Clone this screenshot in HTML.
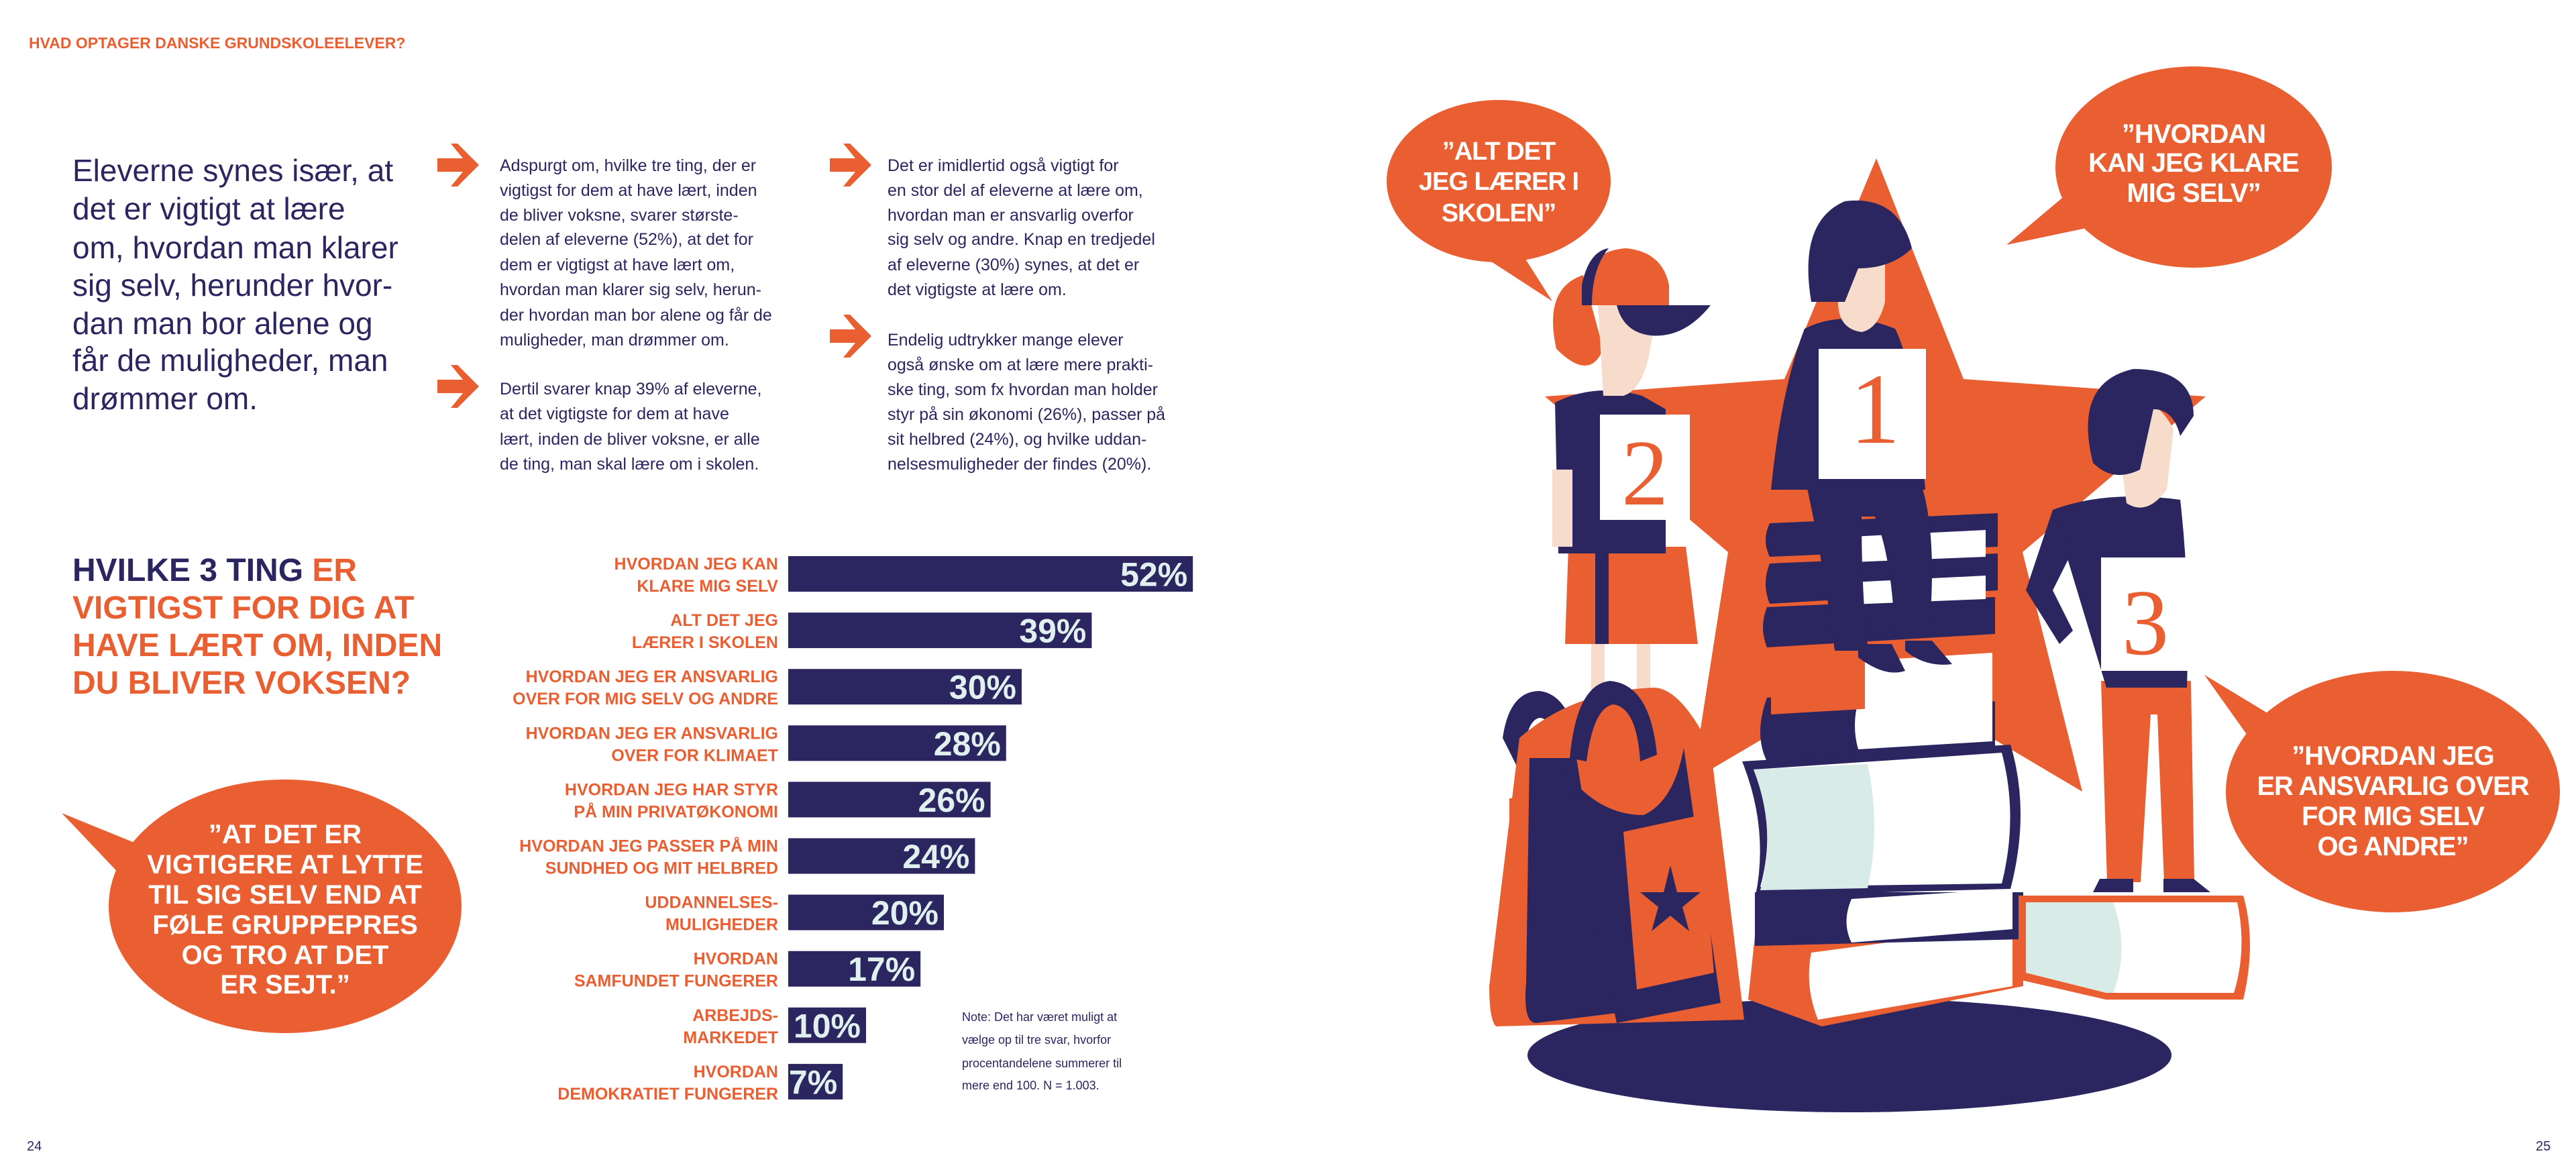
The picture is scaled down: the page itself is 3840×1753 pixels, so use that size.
<!DOCTYPE html>
<html><head><meta charset="utf-8"><style>
html,body{margin:0;padding:0;background:#fff;}
svg{display:block;}
.nar{font-family:"Liberation Sans Narrow","Liberation Sans",sans-serif;font-weight:bold;}
.reg{font-family:"Liberation Sans",sans-serif;}
.bub{font-family:"Liberation Sans",sans-serif;font-weight:bold;fill:#fff;letter-spacing:-1px;}
</style></head><body>
<svg id="page" width="3840" height="1753" viewBox="0 0 3840 1753" xmlns="http://www.w3.org/2000/svg">
<text x="43" y="72" class="nar" font-size="23" fill="#e95f32">HVAD OPTAGER DANSKE GRUNDSKOLEELEVER?</text>

<g class="reg" font-size="46" fill="#2b2560">
<text x="108" y="270">Eleverne synes især, at</text>
<text x="108" y="327">det er vigtigt at lære</text>
<text x="108" y="385">om, hvordan man klarer</text>
<text x="108" y="441">sig selv, herunder hvor-</text>
<text x="108" y="498">dan man bor alene og</text>
<text x="108" y="553">får de muligheder, man</text>
<text x="108" y="610">drømmer om.</text>
</g>

<g fill="#e95f32">
<path d="M652,236 h38 l-18,-22 h10 l32,32 l-32,32 h-10 l18,-22 h-38z"/>
<path d="M652,566 h38 l-18,-22 h10 l32,32 l-32,32 h-10 l18,-22 h-38z"/>
<path d="M1237,236 h38 l-18,-22 h10 l32,32 l-32,32 h-10 l18,-22 h-38z"/>
<path d="M1237,491 h38 l-18,-22 h10 l32,32 l-32,32 h-10 l18,-22 h-38z"/>
</g>
<g class="reg" font-size="25" fill="#2b2560">
<text x="745" y="255">Adspurgt om, hvilke tre ting, der er</text>
<text x="745" y="292">vigtigst for dem at have lært, inden</text>
<text x="745" y="329">de bliver voksne, svarer største-</text>
<text x="745" y="365">delen af eleverne (52%), at det for</text>
<text x="745" y="403">dem er vigtigst at have lært om,</text>
<text x="745" y="440">hvordan man klarer sig selv, herun-</text>
<text x="745" y="478">der hvordan man bor alene og får de</text>
<text x="745" y="515">muligheder, man drømmer om.</text>
<text x="745" y="588">Dertil svarer knap 39% af eleverne,</text>
<text x="745" y="625">at det vigtigste for dem at have</text>
<text x="745" y="663">lært, inden de bliver voksne, er alle</text>
<text x="745" y="700">de ting, man skal lære om i skolen.</text>
</g>
<g class="reg" font-size="25" fill="#2b2560">
<text x="1323" y="255">Det er imidlertid også vigtigt for</text>
<text x="1323" y="292">en stor del af eleverne at lære om,</text>
<text x="1323" y="329">hvordan man er ansvarlig overfor</text>
<text x="1323" y="365">sig selv og andre. Knap en tredjedel</text>
<text x="1323" y="403">af eleverne (30%) synes, at det er</text>
<text x="1323" y="440">det vigtigste at lære om.</text>
<text x="1323" y="515">Endelig udtrykker mange elever</text>
<text x="1323" y="552">også ønske om at lære mere prakti-</text>
<text x="1323" y="589">ske ting, som fx hvordan man holder</text>
<text x="1323" y="626">styr på sin økonomi (26%), passer på</text>
<text x="1323" y="663">sit helbred (24%), og hvilke uddan-</text>
<text x="1323" y="700">nelsesmuligheder der findes (20%).</text>
</g>

<g class="nar" font-size="48">
<text x="108" y="866"><tspan fill="#2b2560">HVILKE 3 TING </tspan><tspan fill="#e95f32">ER</tspan></text>
<text x="108" y="922" fill="#e95f32">VIGTIGST FOR DIG AT</text>
<text x="108" y="978" fill="#e95f32">HAVE LÆRT OM, INDEN</text>
<text x="108" y="1034" fill="#e95f32">DU BLIVER VOKSEN?</text>
</g>

<g>
<path d="M92,1212 L215,1262 L185,1310z" fill="#e95f32"/>
<ellipse cx="425" cy="1351" rx="263" ry="189" fill="#e95f32"/>
<g class="nar" font-size="40" fill="#fff" text-anchor="middle">
<text x="425" y="1257">”AT DET ER</text>
<text x="425" y="1302">VIGTIGERE AT LYTTE</text>
<text x="425" y="1347">TIL SIG SELV END AT</text>
<text x="425" y="1392">FØLE GRUPPEPRES</text>
<text x="425" y="1437">OG TRO AT DET</text>
<text x="425" y="1481">ER SEJT.”</text>
</g></g>

<g id="chart"></g>

<g class="reg" font-size="18" fill="#2b2560">
<text x="1434" y="1522">Note: Det har været muligt at</text>
<text x="1434" y="1556">vælge op til tre svar, hvorfor</text>
<text x="1434" y="1591">procentandelene summerer til</text>
<text x="1434" y="1624">mere end 100. N = 1.003.</text>
</g>
<text x="40" y="1715" class="reg" font-size="20" fill="#2b2560">24</text>
<text x="3780" y="1715" class="reg" font-size="20" fill="#2b2560">25</text>

<g>
<polygon points="2797,236 2927,565 3288,591 3015,823 3104,1180 2800,1000 2523,1163 2576,823 2303,591 2660,565" fill="#e95f32"/>
<ellipse cx="2757" cy="1573" rx="480" ry="85" fill="#2b2560"/>
<g>
<rect x="2372" y="950" width="20" height="130" fill="#f8dccb"/><rect x="2440" y="950" width="20" height="130" fill="#f8dccb"/>
<path d="M2338,815 h175 l18,145 h-198z" fill="#e95f32"/><rect x="2378" y="815" width="20" height="145" fill="#2b2560"/>
<path d="M2318,600 q60,-30 130,-10 l35,20 v215 h-160z" fill="#2b2560"/>
<rect x="2314" y="700" width="30" height="115" fill="#f8dccb"/>
<path d="M2320,520 q-20,-90 40,-110 l30,110 q-20,50 -70,0z" fill="#e95f32"/>
<path d="M2380,420 q60,-20 90,40 l-10,60 q-10,60 -40,70 l-30,0z" fill="#f8dccb"/>
<path d="M2358,495 v-70 q10,-50 65,-55 q55,5 65,55 v30 h-130z" fill="#e95f32"/>
<path d="M2358,455 v-30 q10,-50 40,-55 q-25,30 -25,85z" fill="#2b2560"/>
<path d="M2410,455 h140 q-40,50 -90,45 q-40,-5 -50,-45z" fill="#2b2560"/>
<rect x="2385" y="618" width="134" height="157" fill="#fff"/>
<text x="2452" y="752" text-anchor="middle" font-family="Liberation Serif,serif" font-size="140" fill="#e95f32">2</text>
</g>
<g>
<path d="M2616,1395 l400,-35 v110 l-300,60 l-110,-40z" fill="#e95f32"/>
<path d="M2700,1420 l300,-40 v90 l-290,50 q-20,-50 -10,-100z" fill="#fff"/>
<path d="M2616,1330 h400 v70 l-400,10z" fill="#2b2560"/>
<path d="M2760,1340 l240,-15 v60 l-240,20 q-15,-30 0,-65z" fill="#fff"/>
<path d="M2597,1135 l400,-25 q30,100 0,215 l-380,10 q20,-100 -20,-200z" fill="#2b2560"/>
<path d="M2614,1147 l370,-25 q25,95 0,195 l-360,5 q25,-90 -10,-175z" fill="#fff"/>
<path d="M2614,1147 l170,-8 q20,95 0,185 l-160,3 q25,-90 -10,-180z" fill="#d8ebe7"/>
<path d="M2634,1040 l340,-20 v100 l-340,15 q-20,-40 0,-95z" fill="#2b2560"/>
<path d="M2770,1045 l200,-15 v75 l-200,12 q-10,-35 0,-72z" fill="#fff"/>
<path d="M2640,975 l340,-20 v90 l-340,20z" fill="#e95f32"/>
<path d="M2780,985 l190,-12 v75 l-190,12z" fill="#fff"/>
<path d="M2638,780 l340,-15 v50 l-340,15 q-12,-25 0,-50z" fill="#2b2560"/>
<path d="M2638,840 l340,-15 v55 l-340,20 q-12,-30 0,-60z" fill="#2b2560"/>
<path d="M2634,905 l340,-15 v55 l-340,20 q-12,-30 0,-60z" fill="#2b2560"/>
<path d="M2760,800 l200,-10 v40 l-200,8z M2760,868 l200,-10 v35 l-200,8z" fill="#fff"/>
</g>
<g>
<path d="M2690,710 h170 q30,80 15,240 l-50,0 q-5,-120 -30,-180 l-20,0 q0,120 10,200 l-50,0 q-20,-150 -45,-260z" fill="#2b2560"/>
<path d="M2770,960 l50,0 l20,40 q-30,10 -70,-20z M2840,955 l40,0 l30,35 q-40,5 -70,-20z" fill="#2b2560"/>
<path d="M2690,490 q60,-30 135,0 q30,60 45,240 h-230 q15,-150 50,-240z" fill="#2b2560"/>
<path d="M2740,390 q30,-10 70,0 l0,60 q-10,40 -35,45 q-35,-5 -35,-45z" fill="#f8dccb"/>
<path d="M2700,450 q-20,-120 50,-150 q80,-10 100,70 q-30,30 -80,30 l-20,50z" fill="#2b2560"/>
<rect x="2711" y="520" width="160" height="194" fill="#fff"/>
<text x="2795" y="660" text-anchor="middle" font-family="Liberation Serif,serif" font-size="150" fill="#e95f32">1</text>
</g>
<g>
<path d="M3132,1015 h134 l5,300 h-45 l-10,-250 l-10,0 l-15,250 h-50z" fill="#e95f32"/>
<path d="M3130,1310 h50 v20 h-60z M3225,1310 h45 l25,20 h-70z" fill="#2b2560"/>
<path d="M3060,760 q80,-30 190,-15 q15,130 10,280 h-120 z" fill="#2b2560"/>
<path d="M3060,760 l-40,120 l50,80 l20,-20 l-30,-60 l30,-60z" fill="#2b2560"/>
<path d="M3150,600 q60,-20 90,40 l-10,90 q-30,40 -60,20z" fill="#f8dccb"/>
<path d="M3120,690 q-30,-120 60,-140 q90,0 90,70 l-20,30 q-10,-40 -40,-40 l-20,90 q-40,20 -70,-10z" fill="#2b2560"/>
<rect x="3132" y="831" width="132" height="169" fill="#fff"/>
<text x="3198" y="975" text-anchor="middle" font-family="Liberation Serif,serif" font-size="140" fill="#e95f32">3</text>
</g>
<g>
<path d="M3009,1335 h335 q20,70 0,155 h-205 l-130,-30z" fill="#e95f32"/>
<path d="M3020,1345 h315 q15,70 -5,135 h-190 l-120,-30z" fill="#fff"/>
<path d="M3020,1345 h130 q25,70 0,135 l-10,0 l-120,-30z" fill="#d8ebe7"/>
</g>
<g>
<path d="M2240,1100 q10,-70 55,-70 q45,5 60,90 l-30,10 q-10,-60 -30,-60 q-25,5 -25,90z" fill="#2b2560"/>
<path d="M2250,1320 h85 v-130 h-85z" fill="#e95f32"/>
<path d="M2265,1100 q80,-70 200,-75 q40,0 85,90 l50,405 l-370,10 q-10,-10 -10,-60z" fill="#e95f32"/>
<path d="M2280,1130 l70,0 l60,380 l-120,15 q-20,0 -15,-60z" fill="#2b2560"/>
<path d="M2330,1145 q50,70 120,70 q45,-20 60,-100 l55,380 l-155,30 z" fill="#2b2560"/>
<path d="M2420,1240 l115,-25 l20,235 l-115,25z" fill="#e95f32"/>
<polygon points="2490,1290 2500,1330 2535,1330 2508,1352 2518,1388 2490,1365 2462,1388 2472,1352 2445,1330 2480,1330" fill="#2b2560"/>
<path d="M2340,1130 q10,-110 60,-115 q60,5 70,110 l-25,10 q-5,-80 -40,-85 q-30,5 -40,85z" fill="#2b2560"/>
</g>
<g>
<path d="M2270,380 L2314,449 L2220,388z" fill="#e95f32"/>
<ellipse cx="2234" cy="270" rx="167" ry="121" fill="#e95f32"/>
<g class="bub" font-size="38" text-anchor="middle">
<text x="2234" y="238">”ALT DET</text><text x="2234" y="283">JEG LÆRER I</text><text x="2234" y="330">SKOLEN”</text></g>
</g>
<g>
<path d="M3080,290 L2991,365 L3110,340z" fill="#e95f32"/>
<ellipse cx="3270" cy="249" rx="206" ry="150" fill="#e95f32"/>
<g class="bub" font-size="40" text-anchor="middle">
<text x="3270" y="213">”HVORDAN</text><text x="3270" y="256">KAN JEG KLARE</text><text x="3270" y="301">MIG SELV”</text></g>
</g>
<g>
<path d="M3286,1006 L3400,1075 L3360,1110z" fill="#e95f32"/>
<ellipse cx="3567" cy="1180" rx="249" ry="180" fill="#e95f32"/>
<g class="bub" font-size="40" text-anchor="middle">
<text x="3567" y="1140">”HVORDAN JEG</text><text x="3567" y="1185">ER ANSVARLIG OVER</text><text x="3567" y="1230">FOR MIG SELV</text><text x="3567" y="1275">OG ANDRE”</text></g>
</g>
</g>
</svg>
<script>
const categoriesLine1 = ["HVORDAN JEG KAN","ALT DET JEG","HVORDAN JEG ER ANSVARLIG","HVORDAN JEG ER ANSVARLIG","HVORDAN JEG HAR STYR","HVORDAN JEG PASSER PÅ MIN","UDDANNELSES-","HVORDAN","ARBEJDS-","HVORDAN"];
const categoriesLine2 = ["KLARE MIG SELV","LÆRER I SKOLEN","OVER FOR MIG SELV OG ANDRE","OVER FOR KLIMAET","PÅ MIN PRIVATØKONOMI","SUNDHED OG MIT HELBRED","MULIGHEDER","SAMFUNDET FUNGERER","MARKEDET","DEMOKRATIET FUNGERER"];
const values = [52,39,30,28,26,24,20,17,10,7];
const valueLabels = ["52%","39%","30%","28%","26%","24%","20%","17%","10%","7%"];

const NS = "http://www.w3.org/2000/svg";
const g = document.getElementById("chart");
const x0 = 1175, pxPer = 11.6, y0 = 829, step = 84.1, barH = 53;
const xScale = v => v * pxPer;
const yPos = i => y0 + i * step;
function mk(tag, attrs){const e=document.createElementNS(NS,tag);for(const k in attrs)e.setAttribute(k,attrs[k]);return e;}
values.forEach((v,i)=>{
  const y = yPos(i);
  const r = mk("rect",{x:x0,y:y,width:xScale(v),height:barH,fill:"#2b2560"});
  
  
  g.appendChild(r);
  const t = mk("text",{x:x0+xScale(v)-8,y:y+barH/2+18,"text-anchor":"end","font-size":"50",fill:"#dff0ee","class":"nar"});
  t.textContent = valueLabels[i];
  
  
  g.appendChild(t);
  const l1 = mk("text",{x:1160,y:y+20,"text-anchor":"end","font-size":"25",fill:"#e95f32","class":"nar"});
  l1.textContent = categoriesLine1[i];
  
  
  g.appendChild(l1);
  const l2 = mk("text",{x:1160,y:y+53,"text-anchor":"end","font-size":"25",fill:"#e95f32","class":"nar"});
  l2.textContent = categoriesLine2[i];
  
  
  g.appendChild(l2);
});
</script>
</body></html>
